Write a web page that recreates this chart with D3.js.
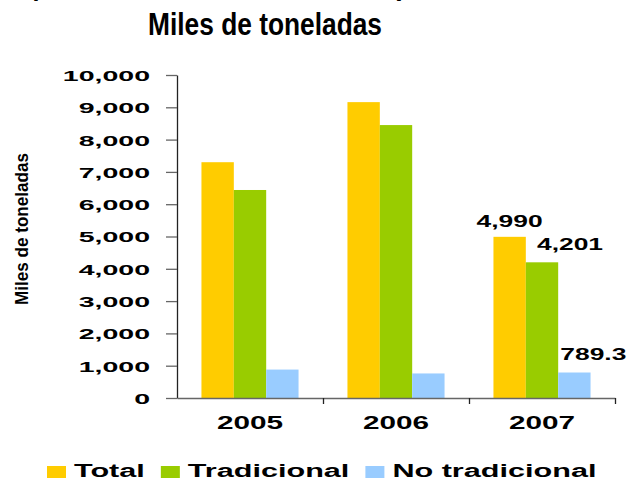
<!DOCTYPE html>
<html><head><meta charset="utf-8">
<script src="https://cdn.jsdelivr.net/npm/d3@7"></script>
<style>html,body{margin:0;padding:0;background:#fff;}svg{display:block;}</style>
</head><body>
<svg id="c" width="632" height="480"></svg>
<script>
// ---- data ----
const years = ["2005", "2006", "2007"];
const seriesNames = ["Total", "Tradicional", "No tradicional"];
const total = [7300, 9160, 4990];
const tradicional = [6440, 8450, 4201];
const noTradicional = [880, 760, 789.3];
const yTicks = [0, 1000, 2000, 3000, 4000, 5000, 6000, 7000, 8000, 9000, 10000];
const labelTexts2007 = ["4,990", "4,201", "789.3"];
const titleLine1a = "Exportaciones de volumen total";
const titleLine1b = "(Enero - Diciembre)";
const titleLine2 = "Miles de toneladas";
const yTitle = "Miles de toneladas";

const colors = ["#FFCC00", "#99CC00", "#99CCFF"];
const FONT = "'Liberation Sans', Arial, sans-serif";
const values = [total, tradicional, noTradicional];

const svg = d3.select("#c");

function stretch(sel, factor) {
  sel.each(function () {
    const w = this.getComputedTextLength();
    d3.select(this).attr("textLength", w * factor).attr("lengthAdjust", "spacingAndGlyphs");
  });
}

// scales
const x0 = d3.scaleBand().domain(years).range([177, 615]).paddingInner(0.335).paddingOuter(0.1675);
const x1 = d3.scaleBand().domain(seriesNames).range([0, x0.bandwidth()]);
const y = d3.scaleLinear().domain([0, 10000]).range([398, 75]);

// title (first line is cut off by the top edge in the original)
svg.append("text").attr("x", 2).attr("y", -6)
  .attr("font-family", FONT).attr("font-weight", "bold").attr("font-size", 32)
  .attr("textLength", 378).attr("lengthAdjust", "spacingAndGlyphs").text(titleLine1a);
const t1b = svg.append("text").attr("x", 392).attr("y", -6)
  .attr("font-family", FONT).attr("font-weight", "bold").attr("font-size", 32).text(titleLine1b);
stretch(t1b, 0.85);
svg.append("text").attr("x", 265).attr("y", 35).attr("text-anchor", "middle")
  .attr("font-family", FONT).attr("font-weight", "bold").attr("font-size", 32)
  .attr("textLength", 234).attr("lengthAdjust", "spacingAndGlyphs").text(titleLine2);

// y title
svg.append("text").attr("transform", "translate(28,229) rotate(-90)").attr("text-anchor", "middle")
  .attr("font-family", FONT).attr("font-weight", "bold").attr("font-size", 18)
  .attr("textLength", 152).attr("lengthAdjust", "spacingAndGlyphs").text(yTitle);

// bars
const g = svg.append("g");
years.forEach((yr, i) => {
  seriesNames.forEach((s, j) => {
    const v = values[j][i];
    g.append("rect")
      .attr("x", x0(yr) + x1(s)).attr("width", x1.bandwidth())
      .attr("y", y(v)).attr("height", y(0) - y(v))
      .attr("fill", colors[j]);
  });
});

// y axis
const yAxis = svg.append("g").attr("transform", "translate(177,0)")
  .call(d3.axisLeft(y).tickValues(yTicks).tickFormat(d3.format(",")).tickSize(11).tickSizeOuter(0).tickPadding(16));
yAxis.select(".domain").attr("stroke", "#222").attr("stroke-width", 1.3);
yAxis.selectAll(".tick line").attr("stroke", "#666").attr("stroke-width", 1.3);
yAxis.selectAll(".tick text").attr("font-family", FONT).attr("font-weight", "bold")
  .attr("font-size", 15).attr("fill", "#000").attr("dy", "0.36em");
stretch(yAxis.selectAll(".tick text"), 1.9);

// x axis (ticks at category boundaries)
const xb = d3.scaleLinear().domain([0, years.length]).range([177, 615]);
const xAxis = svg.append("g").attr("transform", "translate(0,398)")
  .call(d3.axisBottom(xb).tickValues([1, 2, 3]).tickFormat("").tickSize(6).tickSizeOuter(0));
xAxis.select(".domain").attr("stroke", "#666").attr("stroke-width", 1.3);
xAxis.selectAll(".tick line").attr("stroke", "#222").attr("stroke-width", 1.3);

// x labels
const xl = svg.append("g").selectAll("text").data(years).join("text")
  .attr("x", d => x0(d) + x0.bandwidth() / 2).attr("y", 429).attr("text-anchor", "middle")
  .attr("font-family", FONT).attr("font-weight", "bold").attr("font-size", 18).text(d => d);
stretch(xl, 1.65);

// data labels on 2007
const labelDx = [0, 28, 19];
const labelDy = [-10, -12, -13];
const li = years.length - 1;
const dl = svg.append("g").selectAll("text").data(seriesNames).join("text")
  .attr("x", (s, j) => x0(years[li]) + x1(s) + x1.bandwidth() / 2 + labelDx[j])
  .attr("y", (s, j) => y(values[j][li]) + labelDy[j])
  .attr("text-anchor", "middle").attr("font-family", FONT).attr("font-weight", "bold")
  .attr("font-size", 16.5).text((s, j) => labelTexts2007[j]);
stretch(dl, 1.6);

// legend
let lx = 47;
seriesNames.forEach((s, j) => {
  svg.append("rect").attr("x", lx).attr("y", 466).attr("width", 19).attr("height", 12).attr("fill", colors[j]);
  const t = svg.append("text").attr("x", lx + 27).attr("y", 477)
    .attr("font-family", FONT).attr("font-weight", "bold").attr("font-size", 18).text(s);
  stretch(t, 1.70);
  lx = lx + 27 + (+t.attr("textLength")) + 16;
});
</script>
</body></html>
